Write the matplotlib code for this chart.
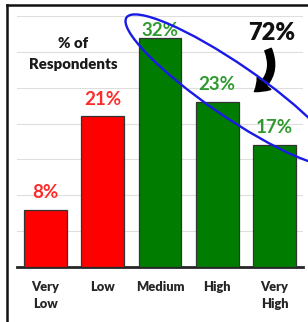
import numpy as np
import matplotlib
matplotlib.use("Agg")
import matplotlib.pyplot as plt
from matplotlib.patches import Ellipse, FancyArrowPatch
from matplotlib.lines import Line2D

# data
categories = ["Very\nLow", "Low", "Medium", "High", "Very\nHigh"]
values = [8, 21, 32, 23, 17]
bar_colors = ["#ff0000", "#ff0000", "#007d00", "#007d00", "#007d00"]
label_colors = ["#ff2a2a", "#ff2a2a", "#2f9a2f", "#2f9a2f", "#2f9a2f"]
total_label = "72%"
y_title = "% of\nRespondents"

W, H = 308, 322
plt.rcParams["font.family"] = ["Lato", "DejaVu Sans"]

fig = plt.figure(figsize=(W / 100, H / 100), dpi=100)
fig.patch.set_facecolor("white")


def px(x, y):
    # pixel position (from top-left) -> inches for dpi_scale_trans
    return (x / 100, (H - y) / 100)


ax = fig.add_axes([17 / W, (H - 267) / H, 286 / W, 251 / H])
x = np.arange(len(categories))
ax.bar(x, values, width=0.75, color=bar_colors, edgecolor="#333333", linewidth=0.9, zorder=3)
ax.set_xlim(-0.5, len(categories) - 0.5)
ax.set_ylim(0, 35)
ax.set_yticks(np.arange(5, 36, 5))
ax.yaxis.grid(True, color="#dedede", linewidth=0.8)
ax.set_axisbelow(True)
for s in ["top", "right", "left"]:
    ax.spines[s].set_visible(False)
ax.spines["bottom"].set_linewidth(2.0)
ax.spines["bottom"].set_color("#262626")
ax.tick_params(axis="y", left=False, labelleft=False)
ax.tick_params(axis="x", length=0, pad=10)
ax.set_xticks(x)
ax.set_xticklabels(categories, fontsize=9.3, fontweight="heavy", color="#262626",
                   linespacing=1.55, va="top")

for xi, v, c in zip(x, values, label_colors):
    ax.text(xi, min(v + 2.4, 33.0), f"{v}%", ha="center", va="center",
            fontsize=13.5, fontweight="bold", color=c, zorder=4)

ax.text(0.48, 29.7, y_title, ha="center", va="center", fontsize=10.8,
        fontweight="heavy", color="#1a1a1a", linespacing=1.65)

tr = fig.dpi_scale_trans

# frame of the chart area
fig.add_artist(Line2D([7 / 100, 7 / 100], [0, (H - 5) / 100], transform=tr,
                      color="#111111", linewidth=1.8))
fig.add_artist(Line2D([7 / 100, W / 100], [(H - 5) / 100, (H - 5) / 100], transform=tr,
                      color="#111111", linewidth=1.8))

# total label and curved arrow
fig.text(*px(272, 33), total_label, transform=tr, ha="center", va="center",
         fontsize=17, fontweight="heavy", color="#111111")
arrow = FancyArrowPatch(px(267, 47), px(252, 93), transform=tr,
                        connectionstyle="arc3,rad=-0.45",
                        arrowstyle="simple,head_length=9,head_width=13,tail_width=5",
                        color="black", zorder=6)
fig.add_artist(arrow)

# ellipse around the upper categories
ell = Ellipse(px(232, 90), 256 / 100, 52 / 100, angle=-34.5, transform=tr,
              fill=False, edgecolor="#1a1ae6", linewidth=1.7, zorder=7)
fig.add_artist(ell)

fig.savefig("out.png", dpi=100)
